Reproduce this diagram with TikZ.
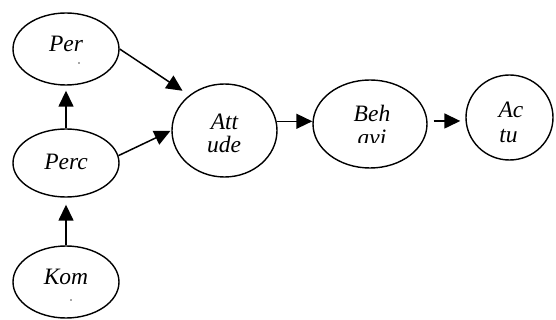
\documentclass[tikz,border=0pt]{standalone}
\usepackage{fontspec}
\setmainfont{Liberation Serif}
\usetikzlibrary{shapes.geometric,arrows.meta,calc}
\begin{document}
\begin{tikzpicture}[x=1pt,y=-1pt,
  oval/.style={draw,ellipse,line width=1.4pt,inner sep=0pt},
  lbl/.style={anchor=base,inner sep=0pt,font=\fontsize{23.5}{27}\selectfont\itshape},
  arr/.style={line width=1.5pt,-{Triangle[length=16pt,width=15pt]}},
  speck/.style={fill=black!70,draw=none}]
\useasboundingbox (0,0) rectangle (556,320);
\node[oval,minimum width=106pt,minimum height=72pt] (per) at (66,49) {};
\node[oval,minimum width=106pt,minimum height=68pt] (perc) at (66,163) {};
\node[oval,minimum width=106pt,minimum height=72pt] (kom) at (66,282) {};
\node[oval,minimum width=105pt,minimum height=93pt] (att) at (224.5,130.5) {};
\node[oval,minimum width=114pt,minimum height=88pt] (beh) at (370,124) {};
\node[oval,minimum width=87pt,minimum height=85pt] (act) at (509.5,117.5) {};
% labels
\node[lbl] (tper) at (66,52) {Per};
\fill[speck] (79,63) circle (0.8);
\node[lbl] (tperc) at (66,170) {Perc};
\node[lbl] (tkom) at (66,284) {Kom};
\fill[speck] (71,300) circle (0.8);
\node[lbl] (tatt1) at (224.5,130) {Att};
\node[lbl] (tatt2) at (224,153) {ude};
\node[lbl] (tbeh1) at (372,122) {Beh};
\begin{scope}
\clip (330,128) rectangle (410,143);
\node[lbl] (tbeh2) at (372,146) {avi};
\end{scope}
\node[lbl] (tact1) at (511,118) {Ac};
\node[lbl] (tact2) at (508.5,143) {tu};
% connectors
\draw[arr,shorten >=8pt] (per.east) -- (att.135);
\draw[arr,shorten >=1pt] (perc.8) -- (att.west);
\draw[arr,shorten >=5pt] (perc.north) -- (per.south);
\draw[arr,shorten >=7pt] (kom.north) -- (perc.south);
\draw[arr] (att.10) -- (att.10 -| beh.west);
\draw[arr,shorten <=6pt,shorten >=5pt] (beh.3) -- (beh.3 -| act.west);
\end{tikzpicture}
\end{document}
